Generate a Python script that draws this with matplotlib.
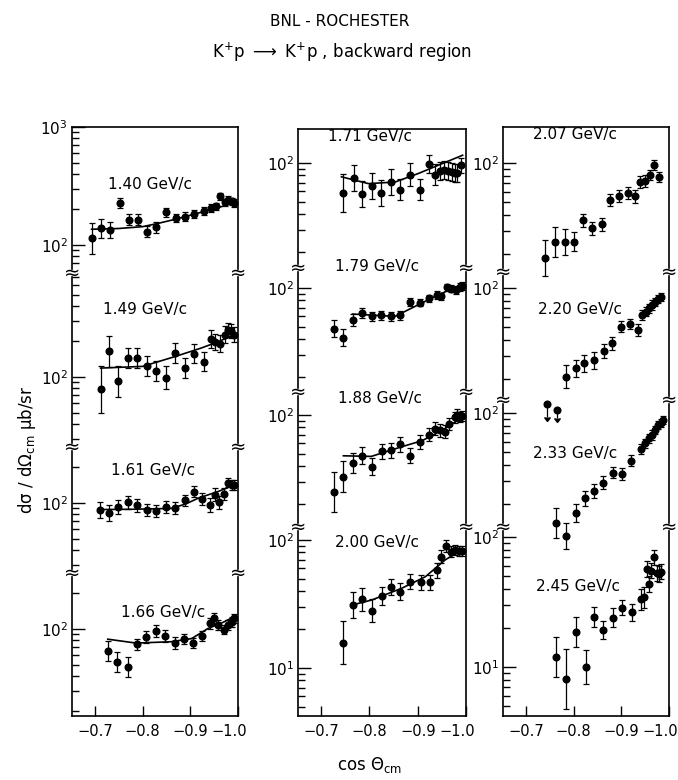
import matplotlib.pyplot as plt
from matplotlib.ticker import LogLocator, NullFormatter, LogFormatterMathtext, FixedLocator
from matplotlib.transforms import ScaledTranslation
import numpy as np

plt.rcParams['font.family'] = ['DejaVu Sans']
plt.rcParams['mathtext.fontset'] = 'dejavusans'

# data: cos(theta_cm), dsigma/dOmega (mub/sr),
# half length of the error bar in decades, and the fitted curve
x_140 = [-0.693, -0.712, -0.731, -0.752, -0.771, -0.791, -0.810, -0.829, -0.849, -0.870,
         -0.889, -0.908, -0.928, -0.944, -0.953, -0.962, -0.972, -0.980, -0.987, -0.992]
y_140 = [114, 139, 134, 227, 164, 164, 130, 141, 189, 169, 174, 183, 193, 206, 213, 259, 230, 242, 234, 227]
e_140 = [0.13, 0.08, 0.07, 0.045, 0.045, 0.045, 0.045, 0.045, 0.04, 0.035,
         0.035, 0.035, 0.035, 0.03, 0.03, 0.03, 0.03, 0.03, 0.03, 0.03]
fx_140 = [-0.693, -0.75, -0.800, -0.834, -0.868, -0.903, -0.95, -0.992]
fy_140 = [136, 138, 143, 153, 165, 180, 203, 227]

x_149 = [-0.712, -0.729, -0.749, -0.770, -0.789, -0.810, -0.829, -0.849, -0.868, -0.888,
         -0.908, -0.928, -0.944, -0.952, -0.962, -0.972, -0.980, -0.986, -0.991]
y_149 = [78.5, 165, 92, 146, 146, 125, 113, 99, 161, 119, 157, 135, 210, 198, 192, 229, 252, 244, 229]
e_149 = [0.2, 0.13, 0.13, 0.085, 0.085, 0.085, 0.085, 0.1, 0.085, 0.085,
         0.08, 0.08, 0.08, 0.07, 0.07, 0.07, 0.06, 0.06, 0.06]
fx_149 = [-0.712, -0.800, -0.868, -0.923, -0.960, -0.992]
fy_149 = [119, 123, 149, 176, 200, 229]

x_161 = [-0.710, -0.729, -0.749, -0.770, -0.789, -0.810, -0.829, -0.849, -0.868, -0.888,
         -0.908, -0.925, -0.942, -0.951, -0.961, -0.970, -0.980, -0.987, -0.992]
y_161 = [87, 82, 92, 101, 96, 87, 85, 92, 90, 105, 125, 108, 96, 117, 101, 119, 149, 142, 142]
e_161 = [0.07, 0.065, 0.06, 0.055, 0.055, 0.05, 0.05, 0.05, 0.05, 0.05,
         0.05, 0.05, 0.06, 0.055, 0.055, 0.05, 0.04, 0.04, 0.04]
fx_161 = [-0.707, -0.780, -0.860, -0.890, -0.917, -0.958, -0.992]
fy_161 = [88, 88.5, 90, 98, 110, 125, 142]

x_166 = [-0.727, -0.747, -0.769, -0.788, -0.808, -0.828, -0.848, -0.868, -0.887, -0.906,
         -0.925, -0.941, -0.949, -0.959, -0.970, -0.979, -0.987, -0.992]
y_166 = [65, 53, 48, 74, 85, 96, 87, 76, 82, 76, 87, 112, 123, 108, 99, 108, 115, 123]
e_166 = [0.085, 0.085, 0.085, 0.05, 0.05, 0.05, 0.05, 0.05, 0.045, 0.045,
         0.045, 0.045, 0.045, 0.04, 0.04, 0.04, 0.04, 0.04]
fx_166 = [-0.727, -0.786, -0.860, -0.903, -0.937, -0.965, -0.992]
fy_166 = [82, 76, 78, 83, 101, 112, 127]

x_171 = [-0.746, -0.767, -0.785, -0.805, -0.824, -0.845, -0.864, -0.883, -0.904, -0.923,
         -0.936, -0.947, -0.954, -0.963, -0.970, -0.977, -0.982, -0.989]
y_171 = [58, 76, 57, 66, 58, 71, 62, 81, 62, 99, 81, 86, 88, 86, 85, 83, 84, 96]
e_171 = [0.15, 0.1, 0.1, 0.1, 0.1, 0.1, 0.08, 0.09, 0.08, 0.07,
         0.08, 0.07, 0.07, 0.07, 0.07, 0.07, 0.07, 0.06]
fx_171 = [-0.742, -0.798, -0.853, -0.902, -0.951, -0.993]
fy_171 = [78, 69, 71, 83, 99, 115]

x_179 = [-0.726, -0.746, -0.765, -0.784, -0.805, -0.824, -0.844, -0.864, -0.883, -0.904,
         -0.924, -0.940, -0.949, -0.961, -0.968, -0.979, -0.987, -0.991]
y_179 = [48, 41, 56, 64, 60, 61, 60, 61, 78, 77, 83, 88, 86, 101, 99, 96, 102, 104]
e_179 = [0.065, 0.065, 0.045, 0.04, 0.035, 0.035, 0.035, 0.035, 0.03, 0.03,
         0.03, 0.03, 0.03, 0.03, 0.03, 0.03, 0.03, 0.03]
fx_179 = [-0.765, -0.853, -0.895, -0.936, -0.992]
fy_179 = [62.6, 60, 72, 86, 107]

x_188 = [-0.726, -0.746, -0.765, -0.785, -0.806, -0.826, -0.845, -0.864, -0.883, -0.904,
         -0.923, -0.936, -0.947, -0.956, -0.965, -0.977, -0.981, -0.987, -0.991]
y_188 = [25, 33, 42, 48, 39.5, 52, 53, 59, 48, 62, 70, 78, 76, 74, 85, 96, 100, 96, 98]
e_188 = [0.155, 0.12, 0.08, 0.065, 0.065, 0.06, 0.06, 0.06, 0.06, 0.055,
         0.05, 0.05, 0.05, 0.05, 0.05, 0.045, 0.045, 0.04, 0.04]
fx_188 = [-0.746, -0.804, -0.867, -0.909, -0.951, -0.992]
fy_188 = [48, 47.5, 56.5, 63, 76, 96]

x_200 = [-0.746, -0.765, -0.785, -0.805, -0.826, -0.845, -0.864, -0.885, -0.906, -0.925,
         -0.939, -0.949, -0.959, -0.968, -0.977, -0.985, -0.991]
y_200 = [15.8, 31, 34.4, 28, 36.5, 43, 39.5, 47.3, 46.7, 46.7, 58, 74, 90, 81, 84, 82, 82]
e_200 = [0.17, 0.1, 0.09, 0.09, 0.07, 0.065, 0.065, 0.06, 0.06, 0.06,
         0.06, 0.05, 0.045, 0.045, 0.04, 0.04, 0.04]
fx_200 = [-0.763, -0.805, -0.867, -0.916, -0.957, -0.991]
fy_200 = [31, 34, 42, 51.7, 70, 83.5]

x_207 = [-0.741, -0.762, -0.781, -0.800, -0.819, -0.838, -0.859, -0.876, -0.895, -0.915,
         -0.929, -0.939, -0.949, -0.960, -0.969, -0.979]
y_207 = [18.5, 24.8, 24.8, 24.8, 36.4, 31.5, 33.8, 52, 55.7, 58.5, 55.7, 71, 73, 81, 96.5, 78]
e_207 = [0.14, 0.115, 0.1, 0.075, 0.05, 0.05, 0.05, 0.045, 0.045, 0.045,
         0.05, 0.045, 0.045, 0.04, 0.04, 0.04]

x_220 = [-0.784, -0.804, -0.822, -0.842, -0.863, -0.881, -0.899, -0.919, -0.935, -0.944,
         -0.951, -0.958, -0.965, -0.971, -0.977, -0.983]
y_220 = [20.8, 24.2, 26.3, 27.9, 32.8, 37.5, 50.4, 52.6, 47.6, 62, 65.7, 69.8, 74, 78.5, 81.8, 84.8]
e_220 = [0.09, 0.065, 0.065, 0.065, 0.055, 0.05, 0.04, 0.04, 0.045, 0.04,
         0.035, 0.035, 0.035, 0.03, 0.03, 0.03]
# upper limits (arrows)
xu_220 = [-0.744, -0.765]
yu_220 = [12.8, 11.5]
eu_220 = [0.1, 0.06]

x_233 = [-0.763, -0.784, -0.804, -0.823, -0.842, -0.862, -0.882, -0.902, -0.920, -0.941,
         -0.949, -0.958, -0.965, -0.971, -0.977, -0.984, -0.988]
y_233 = [14.3, 11.3, 17.1, 22, 25.1, 29.1, 34.8, 34, 43, 52.6, 58.6, 63.9, 67.7, 74, 80.9, 84.2, 88.3]
e_233 = [0.115, 0.1, 0.07, 0.06, 0.055, 0.05, 0.045, 0.045, 0.045, 0.04,
         0.035, 0.035, 0.035, 0.03, 0.03, 0.03, 0.03]

x_245 = [-0.763, -0.784, -0.804, -0.825, -0.842, -0.862, -0.882, -0.901, -0.922, -0.941,
         -0.948, -0.953, -0.958, -0.962, -0.968, -0.974, -0.979, -0.984]
y_245 = [11.9, 8.1, 18.5, 10, 24.2, 19.2, 24, 28.6, 26.3, 33.2, 34.4, 56.5, 43.3, 55.1, 69.7, 52.6, 52, 54.1]
e_245 = [0.155, 0.23, 0.115, 0.13, 0.075, 0.07, 0.07, 0.06, 0.065, 0.08,
         0.08, 0.06, 0.06, 0.06, 0.06, 0.06, 0.06, 0.06]

momenta = [['1.40 GeV/c', '1.49 GeV/c', '1.61 GeV/c', '1.66 GeV/c'],
           ['1.71 GeV/c', '1.79 GeV/c', '1.88 GeV/c', '2.00 GeV/c'],
           ['2.07 GeV/c', '2.20 GeV/c', '2.33 GeV/c', '2.45 GeV/c']]
xtick_vals = [-0.7, -0.8, -0.9, -1.0]
xtick_text = ['\u22120.7', '\u22120.8', '\u22120.9', '\u22121.0']

panels = [[(x_140, y_140, e_140, fx_140, fy_140), (x_149, y_149, e_149, fx_149, fy_149),
           (x_161, y_161, e_161, fx_161, fy_161), (x_166, y_166, e_166, fx_166, fy_166)],
          [(x_171, y_171, e_171, fx_171, fy_171), (x_179, y_179, e_179, fx_179, fy_179),
           (x_188, y_188, e_188, fx_188, fy_188), (x_200, y_200, e_200, fx_200, fy_200)],
          [(x_207, y_207, e_207, None, None), (x_220, y_220, e_220, None, None),
           (x_233, y_233, e_233, None, None), (x_245, y_245, e_245, None, None)]]

# layout in pixels of the 678x780 picture
W, H = 678, 780
col_x = [(72, 238), (298, 466), (503, 669)]
col_rows = [[127, 273, 447, 573, 716], [129, 268, 392, 527, 716], [127, 272, 400, 527, 716]]
col_ref = [[245, 377, 503, 629], [163, 288, 415, 540], [163, 288, 413, 537]]   # pixel row of 10^2
col_dec = [118, 128, 130]   # pixels per decade
label_pos = [[(150, 185), (145, 310), (153, 470), (163, 613)],
             [(370, 137), (377, 267), (380, 399), (377, 542)],
             [(575, 135), (580, 310), (575, 453), (578, 587)]]
gap = 4

fig = plt.figure(figsize=(6.78, 7.8), dpi=100)


def errs(y, e):
    y = np.asarray(y, float)
    e = np.asarray(e, float)
    return y, [y * (1 - 10 ** -e), y * (10 ** e - 1)]


for c in range(3):
    x0, x1 = col_x[c]
    rows = col_rows[c]
    for r in range(4):
        top = rows[r] + (gap if r > 0 else 0)
        bot = rows[r + 1] - (gap if r < 3 else 0)
        ax = fig.add_axes([x0 / W, 1 - bot / H, (x1 - x0) / W, (bot - top) / H])
        ax.patch.set_visible(False)
        ref = col_ref[c][r]
        D = col_dec[c]
        ax.set_yscale('log')
        ax.set_ylim(10 ** (2 - (bot - ref) / D), 10 ** (2 + (ref - top) / D))
        ax.set_xlim(-0.652, -1.0)

        xs, ys, es, fx, fy = panels[c][r]
        yv, yerr = errs(ys, es)
        ax.errorbar(xs, yv, yerr=yerr, fmt='o', color='k', ms=4.8, capsize=2,
                    elinewidth=0.9, capthick=0.9, clip_on=False)
        if fx is not None:
            ax.plot(fx, fy, '-', color='k', lw=1.2)
        if c == 2 and r == 1:
            yv, yerr = errs(yu_220, eu_220)
            ax.errorbar(xu_220, yv, yerr=[yerr[0], yerr[0]], uplims=True, fmt='o', color='k',
                        ms=4.8, capsize=2, elinewidth=0.9, clip_on=False)

        ax.yaxis.set_major_locator(LogLocator(base=10))
        ax.yaxis.set_minor_locator(LogLocator(base=10, subs=np.arange(2, 10)))
        ax.yaxis.set_major_formatter(LogFormatterMathtext())
        ax.yaxis.set_minor_formatter(NullFormatter())
        ax.tick_params(axis='y', which='both', direction='in', left=True, right=False,
                       labelsize=11, width=1, pad=3)
        ax.tick_params(axis='y', which='major', length=9)
        ax.tick_params(axis='y', which='minor', length=5)

        for s in ax.spines.values():
            s.set_linewidth(1.2)
        if r > 0:
            ax.spines['top'].set_visible(False)
        if r < 3:
            ax.spines['bottom'].set_visible(False)
            ax.tick_params(axis='x', bottom=False, labelbottom=False)
            # axis break marks at the join with the panel below
            for xx in (0, 1):
                ax.annotate('\u2248', (xx, 0), xycoords='axes fraction',
                            xytext=(0, -gap), textcoords='offset pixels',
                            ha='center', va='center', fontsize=14, annotation_clip=False)
        else:
            ax.xaxis.set_major_locator(FixedLocator(xtick_vals))
            ax.set_xticklabels(xtick_text)
            ax.tick_params(axis='x', direction='in', length=7, width=1, labelsize=10.5, pad=6)
            last = ax.get_xticklabels()[-1]
            last.set_transform(last.get_transform() + ScaledTranslation(-6 / 72, 0, fig.dpi_scale_trans))
        ax.xaxis.set_minor_locator(FixedLocator([]))

        lx, ly = label_pos[c][r]
        fig.text(lx / W, 1 - ly / H, momenta[c][r], ha='center', va='center', fontsize=11)

fig.text(340 / W, 1 - 22 / H, 'BNL - ROCHESTER', ha='center', va='center', fontsize=11)
fig.text(342 / W, 1 - 52 / H, 'K$^{+}$p $\\longrightarrow$ K$^{+}$p , backward region',
         ha='center', va='center', fontsize=12)
fig.text(27 / W, 1 - 450 / H, 'd\u03c3 / d\u03a9$_{\\rm cm}$ \u03bcb/sr', rotation=90,
         ha='center', va='center', fontsize=12)
fig.text(370 / W, 1 - 765 / H, 'cos \u0398$_{\\rm cm}$', ha='center', va='center', fontsize=12)

fig.savefig('out.png', dpi=100)
